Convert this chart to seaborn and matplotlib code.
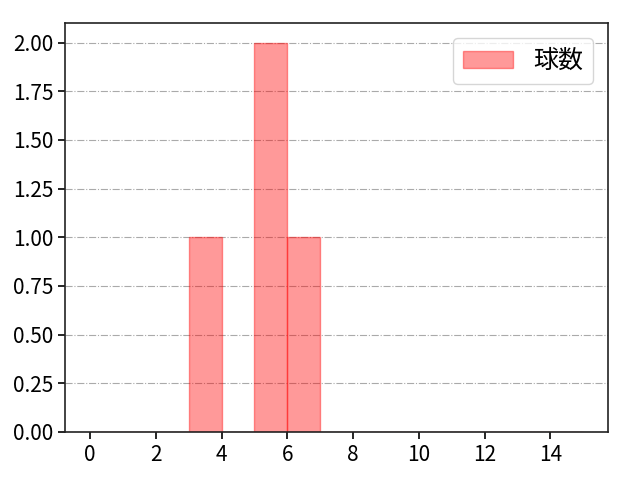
import numpy as np
import seaborn as sns
import matplotlib
matplotlib.use('Agg')
import matplotlib.pyplot as plt

# pitch counts observed (one entry per game)
pitch_counts = [3, 5, 5, 6]
bin_edges = list(range(0, 16))
legend_label = '球数'

plt.rcParams['font.family'] = ['Noto Sans CJK JP', 'DejaVu Sans']

fig, ax = plt.subplots(figsize=(6.4, 4.8), dpi=100)
sns.histplot(
    x=pitch_counts,
    bins=bin_edges,
    color='red',
    alpha=0.4,
    edgecolor=(1, 0, 0, 0.4),
    linewidth=1,
    label=legend_label,
    ax=ax
)
ax.set_ylabel('')
ax.set_xticks(range(0, 15, 2))
ax.yaxis.set_major_formatter(matplotlib.ticker.FormatStrFormatter('%.2f'))
ax.set_yticks(np.arange(0, 2.01, 0.25))
ax.set_ylim(0, 2.1)
ax.set_xlim(-0.75, 15.75)
ax.grid(axis='y', linestyle='-.', color='#aaaaaa', linewidth=0.8)
ax.set_axisbelow(True)
for s in ax.spines.values():
    s.set_linewidth(1.2)
    s.set_color('#222222')
ax.tick_params(labelsize=15, width=1.2, length=5)
ax.legend(loc='upper right', fontsize=18, borderaxespad=0.6)

plt.subplots_adjust(left=0.102, right=0.95, top=0.952, bottom=0.1)
plt.savefig('out.png', dpi=100)
